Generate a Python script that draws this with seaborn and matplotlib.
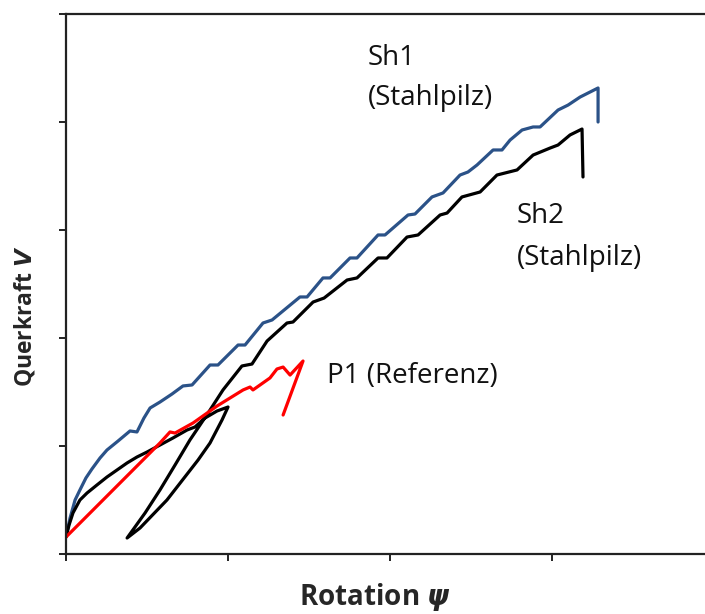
import matplotlib
matplotlib.use("Agg")
import matplotlib.pyplot as plt
import seaborn as sns
import pandas as pd

# ---- data (arbitrary units: rotation, shear force) ----
sh1_rot = [0, 0.25, 0.56, 0.86, 1.23, 1.60, 2.10, 2.53, 3.21, 3.95, 4.38, 4.81, 5.19, 5.80,
           6.54, 7.22, 7.78, 8.89, 9.38, 10.62, 11.05, 12.16, 12.72, 14.44, 14.88, 15.86,
           16.30, 17.53, 17.96, 19.26, 19.69, 21.11, 21.54, 22.59, 23.27, 24.32, 24.81,
           25.37, 26.36, 26.91, 27.41, 28.15, 28.83, 29.26, 30.37, 30.99, 31.73, 32.84, 32.84]
sh1_force = [15.7, 33.3, 50.0, 59.3, 70.4, 78.7, 88.9, 96.3, 104.6, 113.9, 113.0, 125.9,
             135.2, 140.7, 148.1, 155.6, 156.5, 175.0, 175.0, 193.5, 193.5, 213.9, 216.7,
             238.0, 238.0, 255.6, 255.6, 274.1, 274.1, 295.4, 295.4, 313.9, 314.8, 330.6,
             334.3, 350.9, 353.7, 360.2, 374.1, 374.1, 383.3, 392.6, 395.4, 395.4, 411.1,
             415.7, 423.1, 431.5, 400.0]

sh2_rot = [0, 0.19, 0.43, 0.86, 1.30, 1.91, 2.53, 3.15, 3.77, 4.38, 5.00, 5.80, 6.60, 7.47,
           7.96, 8.58, 9.32, 10.00, 9.63, 8.89, 8.15, 6.23, 4.57, 3.77, 4.88, 5.80, 6.73,
           7.65, 8.27, 8.89, 9.69, 10.86, 11.48, 12.41, 13.64, 14.01, 15.25, 15.93, 17.35,
           17.96, 19.26, 19.81, 21.05, 21.73, 23.09, 23.52, 24.44, 25.56, 26.60, 27.84,
           28.83, 29.88, 30.37, 31.11, 31.85, 31.91]
sh2_force = [15.7, 26.9, 38.0, 50.0, 56.5, 63.9, 71.3, 77.8, 84.3, 89.8, 94.4, 100.9, 107.4,
             114.8, 117.6, 125.9, 132.4, 136.1, 124.1, 102.8, 87.0, 50.0, 24.1, 14.8, 38.0,
             59.3, 82.4, 105.6, 119.4, 133.3, 151.9, 174.1, 175.9, 197.2, 213.9, 214.8,
             233.3, 237.0, 253.7, 255.6, 274.1, 274.1, 293.5, 295.4, 313.9, 315.7, 330.6,
             335.2, 350.9, 355.6, 369.4, 375.9, 378.7, 388.0, 393.5, 349.1]

p1_rot = [0, 5.80, 6.42, 6.73, 7.84, 9.32, 10.93, 11.36, 11.54, 12.59, 13.02, 13.40,
          13.83, 14.63, 13.40]
p1_force = [15.7, 102.8, 113.0, 112.0, 121.3, 137.0, 151.9, 154.6, 151.9, 163.0,
            171.3, 173.1, 165.7, 178.7, 128.7]

x_ticks = [0, 10, 20, 30]
y_ticks = [0, 100, 200, 300, 400, 500]

labels = ["Sh1", "(Stahlpilz)", "Sh2", "(Stahlpilz)", "P1 (Referenz)"]

# ---- styling ----
sns.set_style("ticks")
plt.rcParams["font.family"] = ["Open Sans", "DejaVu Sans"]
plt.rcParams["mathtext.fontset"] = "custom"
plt.rcParams["mathtext.it"] = "DejaVu Sans:italic:bold"
plt.rcParams["mathtext.rm"] = "DejaVu Sans:bold"

fig = plt.figure(figsize=(7.05, 6.14), dpi=100)
ax = fig.add_axes([66 / 705, 60 / 614, 639 / 705, 540 / 614])

df1 = pd.DataFrame({"rot": sh1_rot, "V": sh1_force})
df2 = pd.DataFrame({"rot": sh2_rot, "V": sh2_force})
df3 = pd.DataFrame({"rot": p1_rot, "V": p1_force})

lw = 2.3
sns.lineplot(data=df1, x="rot", y="V", sort=False, estimator=None, color="#2B5288", lw=lw, ax=ax)
sns.lineplot(data=df2, x="rot", y="V", sort=False, estimator=None, color="black", lw=lw, ax=ax)
sns.lineplot(data=df3, x="rot", y="V", sort=False, estimator=None, color="#FF0000", lw=lw, ax=ax)

ax.set_xlim(0, 39.44)
ax.set_ylim(0, 500)
ax.set_xticks(x_ticks)
ax.set_yticks(y_ticks)
ax.set_xticklabels([])
ax.set_yticklabels([])
ax.tick_params(direction="out", length=5, width=1.4, color="#222222")
for s in ["left", "bottom", "top"]:
    ax.spines[s].set_linewidth(1.6)
    ax.spines[s].set_color("#222222")
ax.spines["right"].set_visible(False)

fs = 20
ax.text(18.64, 452.8, labels[0], fontsize=fs, ha="left", va="baseline", color="#111111")
ax.text(18.64, 415.7, labels[1], fontsize=fs, ha="left", va="baseline", color="#111111")
ax.text(27.84, 306.5, labels[2], fontsize=fs, ha="left", va="baseline", color="#111111")
ax.text(27.84, 267.6, labels[3], fontsize=fs, ha="left", va="baseline", color="#111111")
ax.text(16.11, 158.3, labels[4], fontsize=fs, ha="left", va="baseline", color="#111111")

ax.set_xlabel(r"Rotation $\psi$", fontsize=20, fontweight="bold")
ax.set_ylabel(r"Querkraft $V$", fontsize=16.5, fontweight="bold")
ax.xaxis.set_label_coords((375 - 66) / 639, (554 - 597) / 540)
ax.xaxis.label.set_va("center")
ax.yaxis.set_label_coords((25 - 66) / 639, (554 - 316) / 540)
ax.yaxis.label.set_va("center")

fig.savefig("out.png", dpi=100)
